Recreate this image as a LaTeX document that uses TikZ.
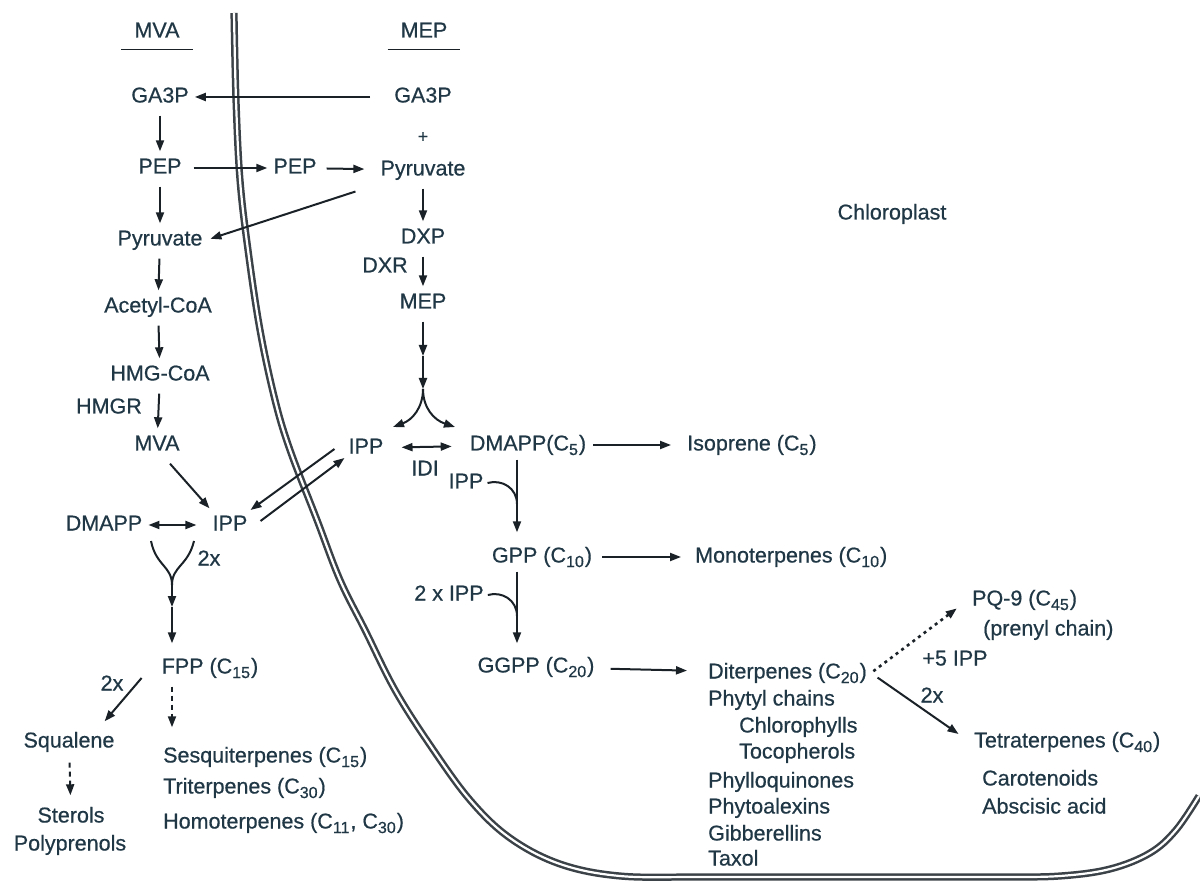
\documentclass[tikz,border=0pt]{standalone}
\usepackage{fontspec}
\setmainfont{Liberation Sans}
\newfontfamily\diagfont{Liberation Sans}[FakeBold=0.6]
\usetikzlibrary{arrows.meta,calc}
\definecolor{txt}{RGB}{32,56,70}
\definecolor{ink}{RGB}{26,34,40}
\newcommand{\sbs}[1]{\raisebox{-0.4ex}{\fontsize{16}{16}\selectfont #1}\kern1pt}
\begin{document}
\begin{tikzpicture}[x=1pt,y=-1pt,
  t/.style={text=txt, font=\diagfont\fontsize{21.5}{24}\selectfont, inner xsep=4pt, inner ysep=5pt, text height=15pt, text depth=4pt},
  tw/.style={t, anchor=west},
  arr/.style={draw=ink, line width=2pt, -{Triangle[length=11pt,width=8pt]}},
  v/.style={arr, shorten <=4pt, shorten >=2pt},
  dbl/.style={draw=ink, line width=2pt, {Triangle[length=11pt,width=8pt]}-{Triangle[length=11pt,width=8pt]}},
  dasharr/.style={arr, dash pattern=on 5pt off 4pt},
  dotarr/.style={arr, dash pattern=on 3pt off 4pt, line width=2.6pt},
  plain/.style={draw=ink, line width=2pt},
  membrane/.style={draw=ink!85!white, double=white, double distance=2.2pt, line width=2.5pt},
]
\fill[white] (0,0) rectangle (1200,882);
\useasboundingbox (0,0) rectangle (1200,882);

% membrane
\draw[membrane] plot[smooth, tension=0.6] coordinates {(234,13) (236,100) (240,180) (248,250) (260,330) (275,400) (290,450) (317,520) (340,580) (365,630) (395,690) (430,745) (470,800) (510,838) (560,864) (620,876) (700,877) (800,877) (900,877) (1000,877) (1060,876) (1110,869) (1150,853) (1176,830) (1199,796)};

% titles
\node[t, inner xsep=13pt] (mvaT) at (157,32) {MVA};
\node[t, inner xsep=13pt] (mepT) at (424,32) {MEP};
\draw[plain, line width=1.6pt] ($(mvaT.south west)+(0,3)$) -- ($(mvaT.south east)+(0,3)$);
\draw[plain, line width=1.6pt] ($(mepT.south west)+(0,3)$) -- ($(mepT.south east)+(0,3)$);

% MVA column
\node[t] (gaL) at (160,97) {GA3P};
\node[t] (pepL) at (160,168) {PEP};
\node[t] (pyrL) at (160,240) {Pyruvate};
\node[t] (acL) at (158,307) {Acetyl-CoA};
\node[t] (hmgL) at (160,375) {HMG-CoA};
\node[t] (hmgr) at (109,408) {HMGR};
\node[t] (mvaL) at (157,445) {MVA};
\node[t] (dmappL) at (104,525) {DMAPP};
\node[t] (ippL) at (230,525) {IPP};
\node[t] (twoxA) at (209,560) {2x};
\node[t] (fpp) at (210,668) {FPP (C\sbs{15})};
\node[t] (twoxB) at (112,685) {2x};
\node[t] (squal) at (69,742) {Squalene};
\node[t] (sterols) at (71,817) {Sterols};
\node[t] (polypr) at (70,845) {Polyprenols};
\node[tw] (sesqui) at (159,757) {Sesquiterpenes (C\sbs{15})};
\node[tw] (triterp) at (159,788) {Triterpenes (C\sbs{30})};
\node[tw] (homoterp) at (159,823) {Homoterpenes (C\sbs{11}, C\sbs{30})};

% MEP column
\node[t] (gaR) at (423,97) {GA3P};
\node[t, font=\diagfont\fontsize{18}{18}\selectfont] (plus) at (423,137) {+};
\node[t] (pepM) at (295,168) {PEP};
\node[t] (pyrR) at (423,170) {Pyruvate};
\node[t] (dxp) at (423,238) {DXP};
\node[t] (dxr) at (385,267) {DXR};
\node[t] (mepN) at (423,303) {MEP};
\node[t] (ippR) at (366,448) {IPP};
\node[t] (dmappR) at (528,445) {DMAPP(C\sbs{5})};
\node[t] (idi) at (425,470) {IDI};
\node[tw] (isop) at (683,445) {Isoprene (C\sbs{5})};
\node[t] (ippH) at (466,483) {IPP};
\node[t] (gpp) at (542,557) {GPP (C\sbs{10})};
\node[tw] (mono) at (691,557) {Monoterpenes (C\sbs{10})};
\node[t] (ipp2) at (449,595) {2 x IPP};
\node[t] (ggpp) at (536,667) {GGPP (C\sbs{20})};
\node[tw] (diter) at (704,673) {Diterpenes (C\sbs{20})};
\node[tw] (phytyl) at (704,700) {Phytyl chains};
\node[tw] (chloro) at (735,727) {Chlorophylls};
\node[tw] (toco) at (735,753) {Tocopherols};
\node[tw] (phyllo) at (704,782) {Phylloquinones};
\node[tw] (phytoal) at (704,808) {Phytoalexins};
\node[tw] (gibb) at (704,835) {Gibberellins};
\node[tw] (taxol) at (704,860) {Taxol};
\node[tw] (pq9) at (968,600) {PQ-9 (C\sbs{45})};
\node[tw] (prenyl) at (979,630) {(prenyl chain)};
\node[t] (plus5) at (955,660) {+5 IPP};
\node[t] (twoxC) at (932,697) {2x};
\node[tw] (tetra) at (970,742) {Tetraterpenes (C\sbs{40})};
\node[tw] (carot) at (978,780) {Carotenoids};
\node[tw] (absc) at (978,808) {Abscisic acid};
\node[t] (chl) at (892,214) {Chloroplast};

% helper coordinates
\coordinate (vx) at (517,0);
\coordinate (m1) at (423,356);
\coordinate (ysp) at (423,389);
\coordinate (yl) at (393,427);
\coordinate (yr) at (455,427);
\coordinate (yL1) at (151,541);
\coordinate (yR1) at (194,541);
\coordinate (ym) at (172,585);
\coordinate (ym2) at (172,607);

% MVA arrows
\draw[arr, shorten <=20pt, shorten >=2pt] (gaR) -- (gaL);
\draw[v] (gaL) -- (pepL);
\draw[arr, shorten <=8pt, shorten >=2pt] (pepL) -- (pepM);
\draw[arr, shorten <=6pt, shorten >=12pt] (pepM) -- (pyrR);
\draw[v] (pepL) -- (pyrL);
\draw[arr, shorten <=22pt, shorten >=4pt] (pyrR.south west) -- (pyrL.east);
\draw[v] (pyrL) -- (acL);
\draw[v] (acL) -- (hmgL);
\draw[v] (hmgL) -- (mvaL);
\draw[arr] ($(mvaL.south)+(13,4)$) -- ($(ippL.north west)+(1,-2)$);
\draw[dbl, shorten >=12pt, shorten <=2pt] (dmappL) -- (ippL);
\draw[arr] ($(ippR.west)+(-10,1)$) -- ($(ippL.east)+(-1,-15)$);
\draw[arr] ($(ippL.east)+(9,-4)$) -- ($(ippR.west)+(0,10)$);
\draw[plain] (yL1) .. controls (156,566) and (172,566) .. (ym);
\draw[plain] (yR1) .. controls (188,566) and (172,566) .. (ym);
\draw[arr] (ym) -- (ym2);
\draw[arr, shorten >=10pt] (ym2) -- (fpp.north -| ym2);
\draw[arr] ($(fpp.west)+(-16,10)$) -- ($(squal.north east)+(-14,-6)$);
\draw[dasharr, shorten <=6pt, shorten >=7pt] (squal) -- (sterols);
\draw[dasharr, shorten <=4pt, shorten >=15pt] (fpp.south -| ym) -- (sesqui.north -| ym);

% MEP arrows
\draw[v] (pyrR) -- (dxp);
\draw[v] (dxp) -- (mepN);
\draw[arr, shorten <=4pt] (mepN) -- (m1);
\draw[arr] (m1) -- (ysp);
\draw[arr] (ysp) .. controls (423,408) and (412,420) .. (yl);
\draw[arr] (ysp) .. controls (423,408) and (434,420) .. (yr);
\draw[dbl, shorten <=14pt, shorten >=14pt] (ippR) -- (dmappR);
\draw[arr, shorten <=3pt, shorten >=12pt] (dmappR) -- (isop);
\draw[arr, shorten >=10pt] (dmappR.south -| vx) -- (gpp.north -| vx);
\draw[plain] (ippH.east) .. controls (502,479) and (517,488) .. (517,504);
\draw[arr, shorten <=6pt, shorten >=10pt] (gpp) -- (mono);
\draw[arr, shorten >=9pt] (gpp.south -| vx) -- (ggpp.north -| vx);
\draw[plain] (ipp2.east) .. controls (502,591) and (517,600) .. (517,616);
\draw[arr, shorten <=12pt, shorten >=17pt] (ggpp) -- (diter);
\draw[dotarr, shorten <=3pt, shorten >=14pt] (diter.east) -- (pq9.west);
\draw[arr, shorten <=8pt, shorten >=14pt] (diter.east) -- (tetra.west);
\end{tikzpicture}
\end{document}
